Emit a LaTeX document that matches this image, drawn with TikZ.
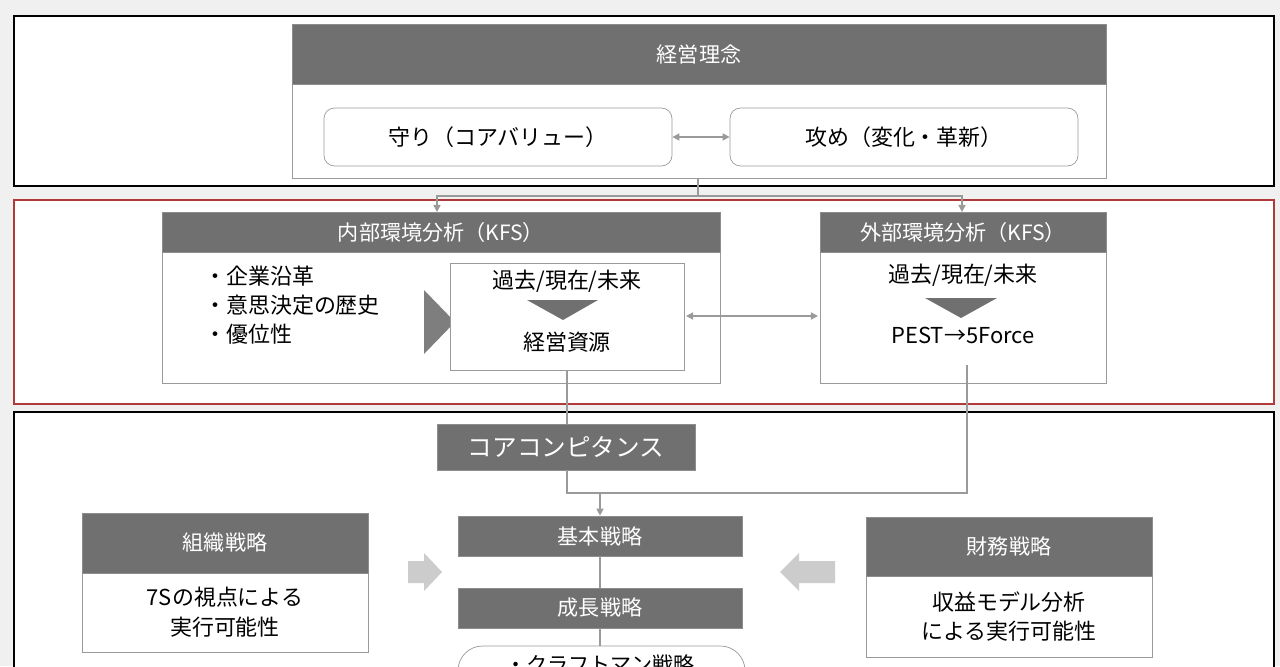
\documentclass[tikz,border=0pt]{standalone}
\usepackage{fontspec}
\setmainfont{Noto Sans CJK JP}
\usetikzlibrary{fit,arrows.meta}
\definecolor{hdrgray}{HTML}{707070}
\definecolor{linegray}{HTML}{9A9A9A}
\definecolor{boxred}{HTML}{B03A3A}
\tikzset{
  hdr/.style={fill=hdrgray,draw=hdrgray!80,inner sep=0pt},
  hdrtext/.style={text=white,font=\fontsize{12}{14}\selectfont},
  body/.style={fill=white,draw=linegray,inner sep=0pt},
  bodytext/.style={font=\fontsize{12.5}{17}\selectfont,align=center},
  frame/.style={draw=black,line width=1.6pt,fill=white},
  conn/.style={draw=linegray,line width=0.8pt},
  tip/.style={-{Triangle[width=4pt,length=4pt]}},
}
\begin{document}
\begin{tikzpicture}[x=0.02cm,y=-0.02cm]
\useasboundingbox (0,0) rectangle (1280,666);
\clip (0,0) rectangle (1280,666);
\fill[gray!12] (0,0) rectangle (1280,666);
% outer frames
\draw[frame] (14,16) rectangle (1274,186);
\draw[draw=boxred,line width=1.4pt,fill=white] (14,200) rectangle (1274,404);
\draw[frame] (14,412) rectangle (1274,690);
% top block
\node[body,fit={(292,84) (1106,178)}] (phbody) {};
\node[hdr,fit={(292,24) (1106,84)}] (philo) {};
\node[hdrtext] at (philo.center) {経営理念};
\node[body,rounded corners=6pt,fit={(324,108) (672,166)}] (mamori) {};
\node[bodytext] at (mamori.center) {守り（コアバリュー）};
\node[body,rounded corners=6pt,fit={(730,108) (1078,166)}] (seme) {};
\node[bodytext] at (seme.center) {攻め（変化・革新）};
\draw[conn,{Triangle[width=4pt,length=4pt]}-{Triangle[width=4pt,length=4pt]}] (mamori) -- (seme);
% analysis block
\node[body,fit={(162,252) (720,383)}] (inbody) {};
\node[hdr,fit={(162,212) (720,252)}] (inner) {};
\node[hdrtext] at (inner.center) {内部環境分析（KFS）};
\node[body,fit={(820,252) (1106,383)}] (exbody) {};
\node[hdr,fit={(820,212) (1106,252)}] (outer) {};
\node[hdrtext] at (outer.center) {外部環境分析（KFS）};
\coordinate (split) at (698,196);
\draw[conn] (phbody.south -| split) -- (split);
\draw[conn,tip] (split) -| (437,212);
\draw[conn,tip] (split) -| (962,212);
\node[anchor=north west,align=left,font=\fontsize{12.5}{16.5}\selectfont] (hist) at (198,260) {・企業沿革\\・意思決定の歴史\\・優位性};
\fill[hdrgray!90] (424,290) -- (455,322) -- (424,354) -- cycle;
\node[body,fit={(450,263) (684,370)}] (resbox) {};
\node[bodytext] (pastin) at (567,281) {過去/現在/未来};
\fill[hdrgray] (527,300) -- (598,300) -- (563,320) -- cycle;
\node[bodytext] (resource) at (567,342) {経営資源};
\node[bodytext] (pastex) at (963,275) {過去/現在/未来};
\fill[hdrgray] (925,298) -- (997,298) -- (961,318) -- cycle;
\node[bodytext] (pest) at (963,335) {PEST→5Force};
\draw[conn,{Triangle[width=4pt,length=4pt]}-{Triangle[width=4pt,length=4pt]}] (686,316) -- (818,316);
% strategy block
\node[hdr,fit={(437,424) (695,470)}] (core) {};
\node[hdrtext,font=\fontsize{14}{16}\selectfont] at (core.center) {コアコンピタンス};
\draw[conn] (567,370) -- (core.north -| 567,0);
\node[hdr,fit={(458,516) (742,556)}] (basic) {};
\node[hdrtext] at (basic.center) {基本戦略};
\node[hdr,fit={(458,588) (742,628)}] (growth) {};
\node[hdrtext] at (growth.center) {成長戦略};
\coordinate (join) at (600,493);
\draw[conn] (core.south -| 567,0) |- (967,493) -- (967,365);
\draw[conn,tip] (join) -- (basic.north -| join);
\draw[conn] (basic.south -| join) -- (growth.north -| join);
\draw[conn] (growth.south -| join) -- (600,646);
\node[body,rounded corners=14pt,fit={(458,646) (745,700)}] (craft) {};
\node[font=\fontsize{12}{14}\selectfont,anchor=north] at (600,648) {・クラフトマン戦略};
\node[body,fit={(82,573) (368,652)}] (orgbody) {};
\node[bodytext] at (orgbody.center) {7Sの視点による\\実行可能性};
\node[hdr,fit={(82,513) (368,573)}] (org) {};
\node[hdrtext] at (org.center) {組織戦略};
\node[body,fit={(866,576) (1152,657)}] (finbody) {};
\node[bodytext] at (finbody.center) {収益モデル分析\\による実行可能性};
\node[hdr,fit={(866,517) (1152,576)}] (fin) {};
\node[hdrtext] at (fin.center) {財務戦略};
\fill[gray!40] (408,561) -- (424,561) -- (424,553) -- (442,572) -- (424,591) -- (424,583) -- (408,583) -- cycle;
\fill[gray!40] (835,561) -- (799,561) -- (799,553) -- (780,572) -- (799,591) -- (799,583) -- (835,583) -- cycle;
\end{tikzpicture}
\end{document}
